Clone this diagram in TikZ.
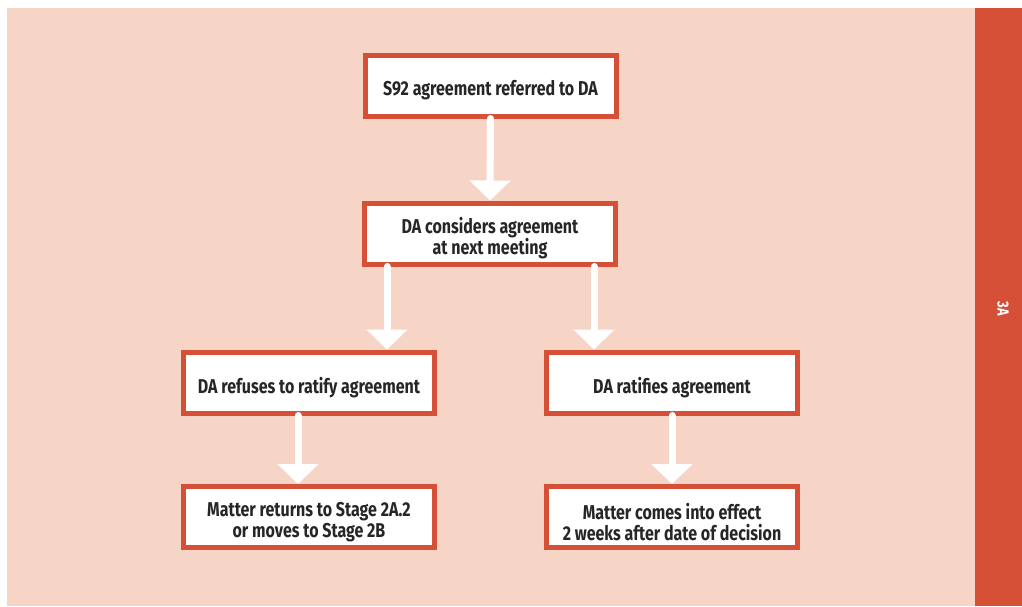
\documentclass[tikz,border=0pt]{standalone}
\usepackage{fontspec}
\setmainfont{Fira Sans}[FakeStretch=0.8]
\usetikzlibrary{arrows.meta}
\definecolor{pinkbg}{HTML}{F7D5C6}
\definecolor{brick}{HTML}{D55037}
\definecolor{ink}{HTML}{262626}
\begin{document}
\begin{tikzpicture}[x=1pt,y=-1pt,
  stepbox/.style={draw=brick, line width=5pt, fill=white,
    minimum width=251pt, minimum height=61pt, inner sep=0pt},
  steptext/.style={align=center, text=ink, inner sep=0pt, yshift=-5pt,
    font=\fontsize{20}{21}\selectfont\bfseries},
  flow/.style={white, line width=7pt, line cap=round,
    -{Triangle[width=40pt,length=20pt]}},
  tab/.style={text=white, font=\fontsize{16}{18}\selectfont\bfseries, rotate=-90}]
  \useasboundingbox (0,0) rectangle (1022,606);
  % page, panel and side tab
  \fill[white] (0,0) rectangle (1022,606);
  \fill[pinkbg] (7,8) rectangle (975,606);
  \fill[brick] (975,8) rectangle (1022,606);
  \node[tab] (tab) at (1003,309) {3A};
  % process steps
  \node[stepbox, label={[steptext]center:S92 agreement referred to DA}] (b1) at (490.5,85.5) {};
  \node[stepbox, label={[steptext]center:{DA considers agreement\\at next meeting}}] (b2) at (490,233.5) {};
  \node[stepbox, label={[steptext]center:DA refuses to ratify agreement}] (b3) at (309,382.5) {};
  \node[stepbox, label={[steptext]center:DA ratifies agreement}] (b4) at (672,382.5) {};
  \node[stepbox, label={[steptext]center:{Matter returns to Stage 2A.2\\or moves to Stage 2B}}] (b5) at (309,517) {};
  \node[stepbox, label={[steptext]center:{Matter comes into effect\\2 weeks after date of decision}}] (b6) at (672,517) {};
  % connectors
  \draw[flow] (b1.south) -- (b2.north);
  \draw[flow] ([xshift=-103pt]b2.south) -- ([xshift=-103pt]b2.south |- b3.north);
  \draw[flow] ([xshift=104pt]b2.south) -- ([xshift=104pt]b2.south |- b4.north);
  \draw[flow] ([xshift=-11pt]b3.south) -- ([xshift=-11pt]b3.south |- b5.north);
  \draw[flow] (b4.south) -- (b6.north);
\end{tikzpicture}
\end{document}
